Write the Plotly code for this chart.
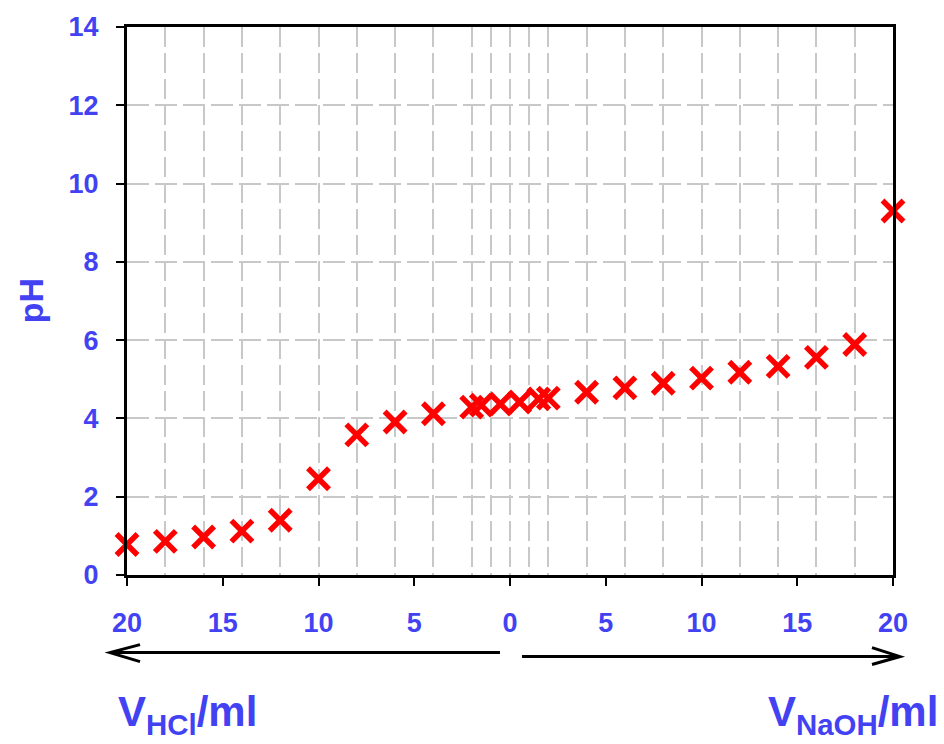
import plotly.graph_objects as go

# Volume axis: negative = V(HCl) added, positive = V(NaOH) added (ml)
volume = [-20, -18, -16, -14, -12, -10, -8, -6, -4, -2, -1.5, -0.5,
          0.5, 1.5, 2, 4, 6, 8, 10, 12, 14, 16, 18, 20]
ph = [0.78, 0.86, 0.97, 1.12, 1.40, 2.46, 3.58, 3.91, 4.12, 4.29, 4.34, 4.37,
      4.42, 4.50, 4.52, 4.67, 4.78, 4.90, 5.03, 5.18, 5.33, 5.56, 5.89, 9.30]

x_tickvals = [-20, -15, -10, -5, 0, 5, 10, 15, 20]
x_ticktext = ["20", "15", "10", "5", "0", "5", "10", "15", "20"]
x_gridvals = [-20, -18, -16, -14, -12, -10, -8, -6, -4, -2, -1, 0, 1, 2,
              4, 6, 8, 10, 12, 14, 16, 18, 20]
y_tickvals = [0, 2, 4, 6, 8, 10, 12, 14]

BLUE = "#4242F2"
FONT = "Liberation Sans, Arial, sans-serif"

fig = go.Figure()
fig.add_trace(go.Scatter(
    x=volume, y=ph, mode="markers",
    marker=dict(symbol="x-thin", size=21, color="#FF0000",
                line=dict(color="#FF0000", width=5.5)),
    cliponaxis=False, showlegend=False,
))

fig.update_layout(
    width=944, height=744,
    margin=dict(l=127, r=51, t=24, b=169),
    plot_bgcolor="white", paper_bgcolor="white",
    xaxis=dict(
        range=[-20, 20], tickvals=x_tickvals, ticktext=x_ticktext,
        showgrid=False, zeroline=False,
        showline=True, linecolor="black", linewidth=3, mirror=True,
        ticks="outside", ticklen=8, tickwidth=2, tickcolor="black",
        ticklabelstandoff=14,
        tickfont=dict(family=FONT, size=27, color=BLUE, weight="bold"),
        minor=dict(tickvals=x_gridvals, showgrid=True, gridcolor="#C8C8C8",
                   gridwidth=1.5, griddash="20px,6px", ticks=""),
    ),
    yaxis=dict(
        range=[0, 14], tickvals=y_tickvals,
        showgrid=True, gridcolor="#C8C8C8", gridwidth=1.5, griddash="22px,6px",
        zeroline=False,
        showline=True, linecolor="black", linewidth=3, mirror=True,
        ticks="outside", ticklen=8, tickwidth=2, tickcolor="black",
        ticklabelstandoff=12,
        tickfont=dict(family=FONT, size=27, color=BLUE, weight="bold"),
    ),
)

# y-axis title
fig.add_annotation(text="pH", xref="paper", yref="paper",
                   x=-0.125, y=0.50, xanchor="center", yanchor="middle",
                   textangle=-90, showarrow=False,
                   font=dict(family=FONT, size=34, color=BLUE, weight="bold"))

# direction arrows
fig.add_shape(type="path", xref="paper", yref="paper",
              path="M 0.4869,-0.1416 L -0.0222,-0.1416 M 0.0170,-0.127 L -0.0222,-0.1416 L 0.0170,-0.158",
              line=dict(color="black", width=3))
fig.add_shape(type="path", xref="paper", yref="paper",
              path="M 0.5157,-0.1488 L 1.0091,-0.1488 M 0.9726,-0.1325 L 1.0091,-0.1488 L 0.9726,-0.1633",
              line=dict(color="black", width=3))

# volume labels
fig.add_annotation(text="V<sub>HCl</sub>/ml", xref="paper", yref="paper",
                   x=-0.014, y=-0.255, xanchor="left", yanchor="middle",
                   showarrow=False,
                   font=dict(family=FONT, size=42, color=BLUE, weight="bold"))
fig.add_annotation(text="V<sub>NaOH</sub>/ml", xref="paper", yref="paper",
                   x=1.062, y=-0.255, xanchor="right", yanchor="middle",
                   showarrow=False,
                   font=dict(family=FONT, size=42, color=BLUE, weight="bold"))

fig.write_html("out.html")
